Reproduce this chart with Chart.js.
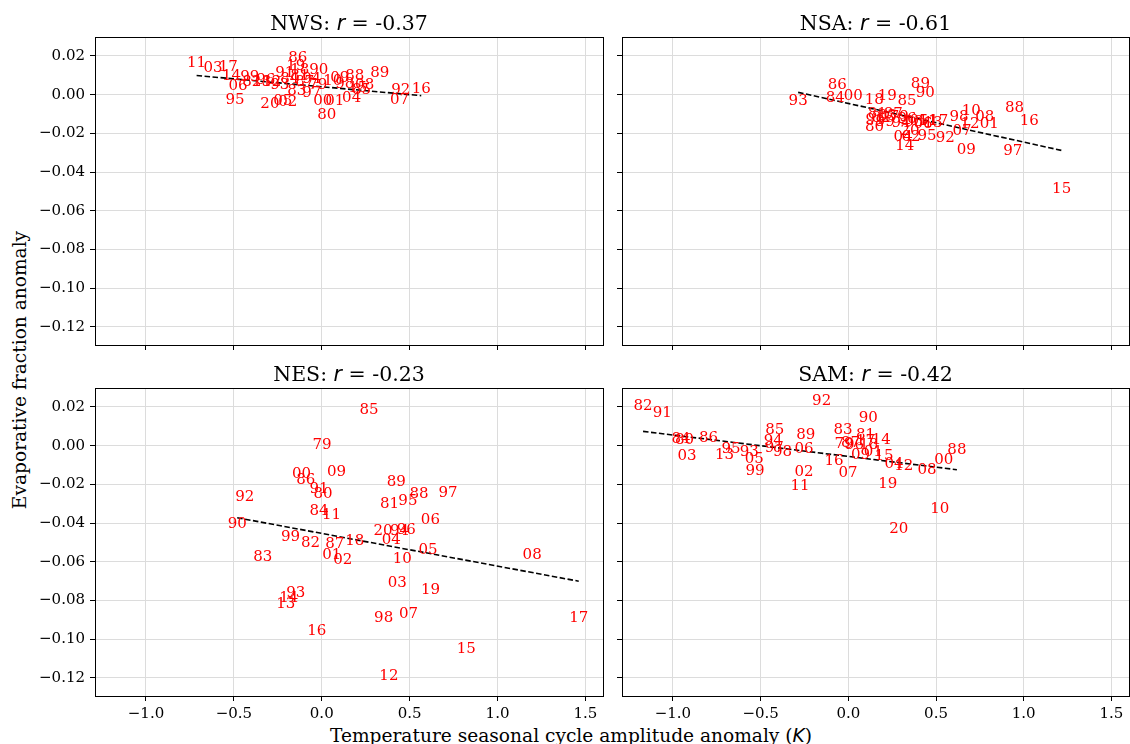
<!DOCTYPE html>
<html><head><meta charset="utf-8">
<script src="https://cdn.jsdelivr.net/npm/chart.js@4"></script>
<style>
body{margin:0;background:#fff;width:1130px;height:744px;overflow:hidden;position:relative;font-family:"DejaVu Serif",serif;}
canvas{position:absolute;left:0;top:0;}
#ylab{position:absolute;left:19px;top:370px;transform:translate(-50%,-50%) rotate(-90deg);font-size:18.6px;white-space:nowrap;color:#000;}
#xlab{position:absolute;left:571px;top:735px;transform:translate(-50%,-50%);font-size:18.6px;white-space:nowrap;color:#000;}
#xlab i{font-family:"DejaVu Sans",sans-serif;}
</style></head>
<body>
<div id="ylab">Evaporative fraction anomaly</div>
<div id="xlab">Temperature seasonal cycle amplitude anomaly (<i>K</i>)</div>
<script>
// ---- data ----
const years = ['79','80','81','82','83','84','85','86','87','88','89','90','91','92','93','94','95','96','97','98','99','00','01','02','03','04','05','06','07','08','09','10','11','12','13','14','15','16','17','18','19','20'];

const nwsX = [-0.023,0.028,-0.125,-0.398,-0.142,-0.182,0.226,-0.136,-0.097,0.1875,0.330,-0.017,-0.210,0.449,-0.239,-0.057,-0.494,-0.318,-0.057,0.131,-0.409,0.006,0.074,-0.193,-0.618,0.170,-0.222,-0.476,0.443,0.244,0.102,0.0625,-0.712,-0.284,-0.341,-0.513,0.2045,0.566,-0.532,-0.125,-0.148,-0.295];
const nwsY = [0.0047,-0.0103,0.0098,0.0067,0.0016,0.0078,0.0026,0.0190,0.0067,0.0095,0.0109,0.0129,0.0109,0.0026,0.0052,0.0083,-0.0026,0.0074,0.0010,0.0057,0.0091,-0.0035,-0.0035,-0.0036,0.0138,-0.0017,-0.0031,0.0043,-0.0026,0.0047,0.0088,0.0072,0.0164,0.0067,0.0067,0.0095,0.0036,0.0029,0.0143,0.0129,0.0150,-0.0047];

const nsaX = [0.290,0.149,0.165,0.1875,0.222,-0.074,0.335,-0.0625,0.256,0.947,0.411,0.439,0.153,0.553,-0.286,0.301,0.449,0.335,0.9375,0.631,0.210,0.028,0.803,0.358,0.375,0.3125,0.403,0.426,0.648,0.778,0.672,0.701,0.4545,0.693,0.483,0.322,1.216,1.032,0.515,0.148,0.222,0.352];
const nsaY = [-0.0114,-0.0167,-0.0098,-0.0119,-0.0109,-0.0016,-0.0035,0.0047,-0.0098,-0.0069,0.0057,0.0009,-0.0129,-0.0224,-0.0035,-0.0145,-0.0215,-0.0124,-0.0289,-0.0114,-0.0140,-0.0005,-0.0150,-0.0217,-0.0140,-0.0217,-0.0134,-0.0150,-0.0190,-0.0114,-0.0284,-0.0086,-0.0134,-0.0150,-0.0145,-0.0264,-0.0486,-0.0138,-0.0138,-0.0026,-0.0005,-0.0186];

const nesX = [0.002,0.007,0.386,-0.064,-0.335,-0.015,0.269,-0.091,0.074,0.553,0.424,-0.481,-0.015,-0.4375,-0.148,0.443,0.490,0.481,0.718,0.352,-0.178,-0.115,0.057,0.119,0.430,0.396,0.604,0.618,0.494,1.197,0.084,0.4585,0.055,0.382,-0.2045,-0.1875,0.822,-0.028,1.462,0.1875,0.619,0.348];
const nesY = [0.0005,-0.0248,-0.0301,-0.0503,-0.0574,-0.0336,0.0182,-0.0176,-0.0506,-0.0248,-0.0190,-0.0405,-0.0224,-0.0265,-0.0760,-0.0439,-0.0284,-0.0434,-0.0244,-0.0890,-0.0472,-0.0145,-0.0563,-0.0589,-0.0709,-0.0489,-0.0541,-0.0382,-0.0870,-0.0563,-0.0138,-0.0585,-0.0360,-0.1188,-0.0816,-0.0785,-0.1050,-0.0956,-0.0890,-0.0495,-0.0748,-0.0443];

const samX = [-0.025,-0.934,0.098,-1.170,-0.030,-0.953,-0.419,-0.797,0.013,0.619,-0.243,0.114,-1.061,-0.152,-0.564,-0.428,-0.669,0.036,-0.422,-0.375,-0.532,0.544,0.142,-0.252,-0.919,0.26,-0.536,-0.252,-0.002,0.449,0.070,0.521,-0.275,0.316,-0.706,0.1875,0.203,-0.081,0.098,0.117,0.2255,0.288];
const samY = [0.0010,0.0031,0.0057,0.0207,0.0079,0.0035,0.0079,0.0040,0.0014,-0.0021,0.0053,0.0143,0.0169,0.0229,-0.0035,0.0022,-0.0017,0.0005,-0.0012,-0.0033,-0.0133,-0.0072,-0.0035,-0.0136,-0.0055,-0.0093,-0.0067,-0.0016,-0.0141,-0.0124,-0.0047,-0.0327,-0.0210,-0.0103,-0.0047,0.0031,-0.0055,-0.0078,0.0022,0.0005,-0.0196,-0.0430];

// regression line end points
const nwsFitX = [-0.712, 0.566], nwsFitY = [0.0099, -0.0005];
const nsaFitX = [-0.286, 1.216], nsaFitY = [0.0012, -0.0288];
const nesFitX = [-0.481, 1.462], nesFitY = [-0.0372, -0.0700];
const samFitX = [-1.170, 0.619], samFitY = [0.0074, -0.0124];

const regionNames = ['NWS','NSA','NES','SAM'];
const rValues = ['-0.37','-0.61','-0.23','-0.42'];

const xTicks = [-1.0,-0.5,0.0,0.5,1.0,1.5];
const yTicks = [-0.12,-0.10,-0.08,-0.06,-0.04,-0.02,0.00,0.02];
const xRange = [-1.29, 1.6];
const yRange = [-0.1293, 0.0298];

// ---- drawing ----
const W = 1130, H = 744;
const fmt = (v,d) => (v < -1e-9 ? '\u2212' : '') + Math.abs(v).toFixed(d);

const panels = [
  {name:regionNames[0], r:rValues[0], x:nwsX, y:nwsY, fx:nwsFitX, fy:nwsFitY, box:[95,37,603,345], xl:false, yl:true},
  {name:regionNames[1], r:rValues[1], x:nsaX, y:nsaY, fx:nsaFitX, fy:nsaFitY, box:[622,37,1129,345], xl:false, yl:false},
  {name:regionNames[2], r:rValues[2], x:nesX, y:nesY, fx:nesFitX, fy:nesFitY, box:[95,388,603,696], xl:true, yl:true},
  {name:regionNames[3], r:rValues[3], x:samX, y:samY, fx:samFitX, fy:samFitY, box:[622,388,1129,696], xl:true, yl:false}
];

const deco = {
  id:'deco',
  afterDatasetsDraw(chart, args, opts){
    const ctx = chart.ctx, meta = chart.getDatasetMeta(0);
    ctx.save();
    ctx.font = '15px "DejaVu Serif"';
    ctx.fillStyle = '#ff0000';
    ctx.textAlign = 'center';
    ctx.textBaseline = 'middle';
    meta.data.forEach((pt,i) => ctx.fillText(years[i], pt.x, pt.y));
    ctx.restore();
  },
  afterDraw(chart, args, opts){
    const ctx = chart.ctx, a = chart.chartArea;
    ctx.save();
    ctx.strokeStyle = '#000';
    ctx.lineWidth = 1;
    ctx.strokeRect(Math.round(a.left)+0.5, Math.round(a.top)+0.5, Math.round(a.right-a.left), Math.round(a.bottom-a.top));
    // title
    const p = opts.panel;
    const parts = [[p.name+': ', '20.5px "DejaVu Serif"'], ['r', 'italic 20.5px "DejaVu Sans"'], [' = '+p.r, '20.5px "DejaVu Serif"']];
    let tot = 0;
    parts.forEach(s => { ctx.font = s[1]; s.push(ctx.measureText(s[0]).width); tot += s[2]; });
    let x = (a.left + a.right)/2 - tot/2;
    ctx.fillStyle = '#000';
    ctx.textBaseline = 'alphabetic';
    ctx.textAlign = 'left';
    parts.forEach(s => { ctx.font = s[1]; ctx.fillText(s[0], x, a.top - 7); x += s[2]; });
    ctx.restore();
  }
};

function makeChart(p){
  const cv = document.createElement('canvas');
  cv.width = W; cv.height = H;
  document.body.appendChild(cv);
  const yW = 70, xH = 30;
  const [L,T,R,B] = p.box;
  new Chart(cv, {
    type:'scatter',
    data:{datasets:[
      {data:p.x.map((v,i)=>({x:v,y:p.y[i]})), pointRadius:0, pointHoverRadius:0, showLine:false},
      {type:'line', data:p.fx.map((v,i)=>({x:v,y:p.fy[i]})), borderColor:'#000', borderWidth:1.6, borderDash:[5.5,2.5], pointRadius:0, fill:false, tension:0}
    ]},
    options:{
      responsive:false, animation:false, events:[],
      layout:{padding:{left:L-yW, top:T, right:W-R, bottom:H-B-xH}},
      plugins:{legend:{display:false}, tooltip:{enabled:false}, title:{display:false}, deco:{panel:p}},
      scales:{
        x:{type:'linear', min:xRange[0], max:xRange[1],
           afterFit:s=>{s.height = xH;},
           afterBuildTicks:s=>{s.ticks = xTicks.map(v=>({value:v}));},
           grid:{color:'#dcdcdc', lineWidth:1, tickColor:'#000', tickLength:5, drawTicks:true},
           border:{display:false},
           ticks:{display:p.xl, color:'#000', font:{family:'DejaVu Serif', size:15}, padding:4, maxRotation:0, autoSkip:false, callback:v=>fmt(v,1)}},
        y:{type:'linear', min:yRange[0], max:yRange[1],
           afterFit:s=>{s.width = yW;},
           afterBuildTicks:s=>{s.ticks = yTicks.map(v=>({value:v}));},
           grid:{color:'#dcdcdc', lineWidth:1, tickColor:'#000', tickLength:5, drawTicks:true},
           border:{display:false},
           ticks:{display:p.yl, color:'#000', font:{family:'DejaVu Serif', size:15}, padding:5, autoSkip:false, callback:v=>fmt(v,2)}}
      }
    },
    plugins:[deco]
  });
}
panels.forEach(makeChart);
</script>
</body></html>
